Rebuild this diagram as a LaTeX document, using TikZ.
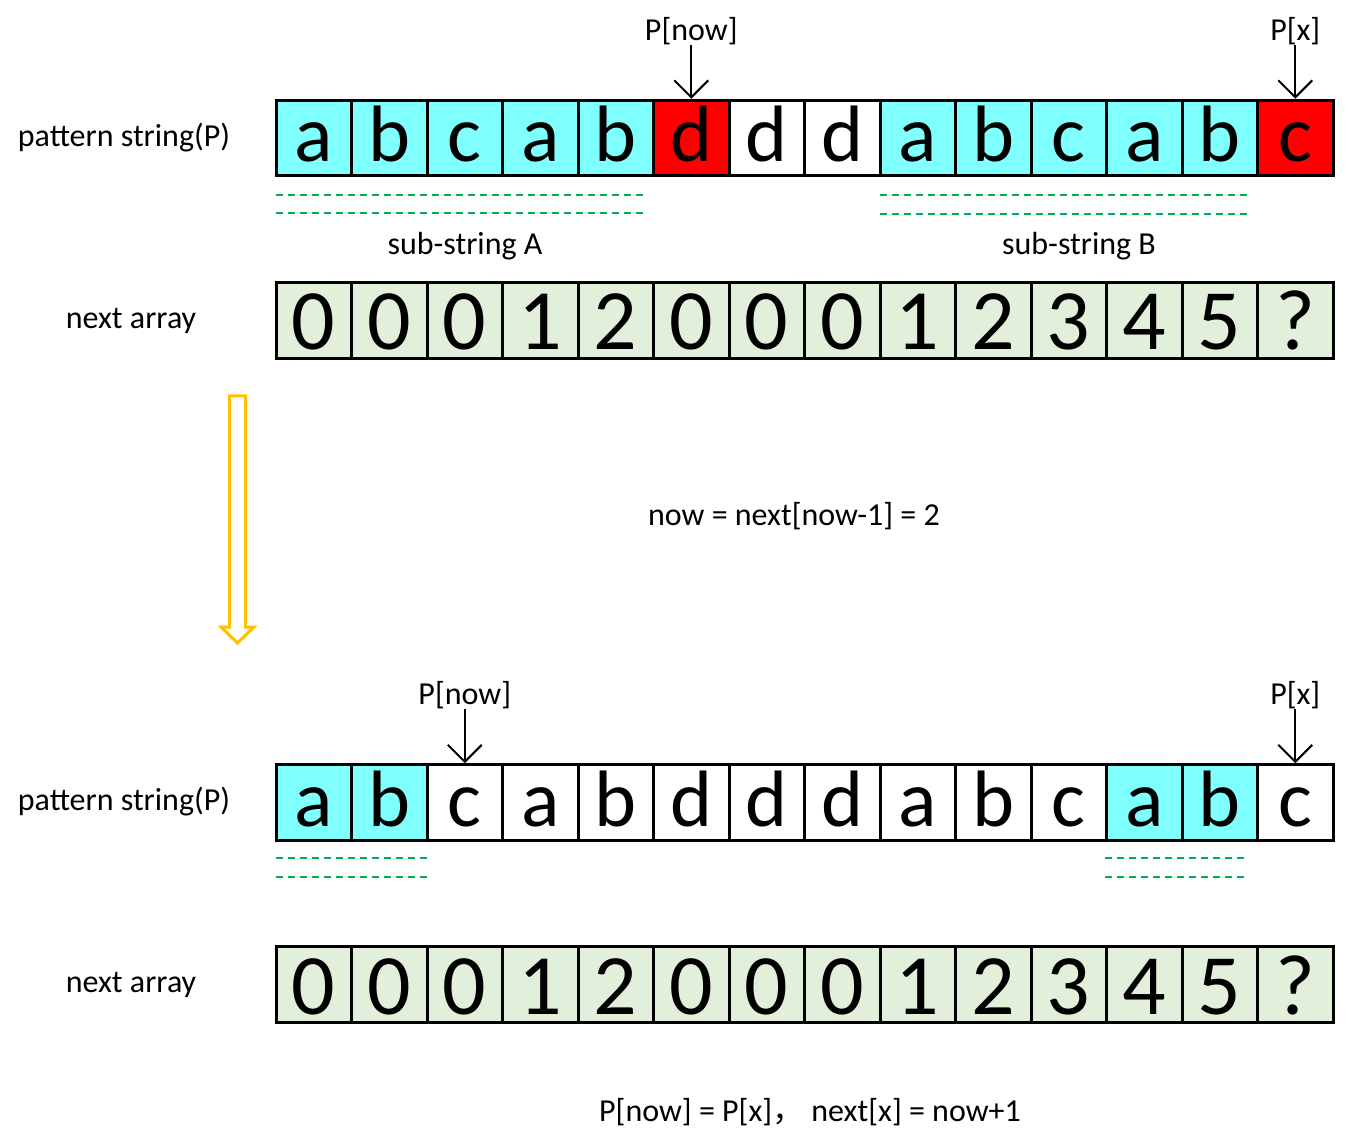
\documentclass[tikz,border=0pt]{standalone}
\usepackage{fontspec}
\setmainfont{Carlito}
\newfontfamily\cjk{Noto Sans CJK SC}
\usetikzlibrary{arrows.meta}
\definecolor{cellcyan}{HTML}{80FFFF}
\definecolor{cellred}{HTML}{FF0000}
\definecolor{cellgreen}{HTML}{E2EFDA}
\definecolor{dashgreen}{HTML}{00B050}
\definecolor{arrowyellow}{HTML}{FFC000}
\begin{document}
\begin{tikzpicture}[x=1pt,y=-1pt,
 cell/.style={draw=black,line width=3pt,minimum width=75.5pt,minimum height=75.5pt,inner sep=0pt,
   font=\fontsize{80}{80}\selectfont,text height=48pt,text depth=0pt},
 numcell/.style={cell,fill=cellgreen,font=\fontsize{86}{86}\selectfont,text height=59pt},
 lbl/.style={font=\fontsize{32}{38}\selectfont,inner sep=0pt},
 ptr/.style={line width=2pt,-{Straight Barb[length=17pt,width=34pt]}},
 match/.style={dashgreen,line width=1.2pt,dash pattern=on 7pt off 5pt},
]
\useasboundingbox (0,0) rectangle (1355,1147);

% top pattern row
\foreach \ch/\col [count=\i] in {a/cellcyan,b/cellcyan,c/cellcyan,a/cellcyan,b/cellcyan,d/cellred,d/white,d/white,a/cellcyan,b/cellcyan,c/cellcyan,a/cellcyan,b/cellcyan,c/cellred}
  \node[cell,fill=\col] (t\i) at ({313.75+75.5*(\i-1)},138) {\ch};
% top next array
\foreach \d [count=\i] in {0,0,0,1,2,0,0,0,1,2,3,4,5,?}
  \node[numcell] (n\i) at ({313.75+75.5*(\i-1)},320.5) {\d};
% bottom pattern row
\foreach \ch/\col [count=\i] in {a/cellcyan,b/cellcyan,c/white,a/white,b/white,d/white,d/white,d/white,a/white,b/white,c/white,a/cellcyan,b/cellcyan,c/white}
  \node[cell,fill=\col] (b\i) at ({313.75+75.5*(\i-1)},802.5) {\ch};
% bottom next array
\foreach \d [count=\i] in {0,0,0,1,2,0,0,0,1,2,3,4,5,?}
  \node[numcell] (m\i) at ({313.75+75.5*(\i-1)},984.5) {\d};

% row labels
\node[lbl] (lp1) at (124,138) {pattern string(P)};
\node[lbl] (ln1) at (131,321) {next array};
\node[lbl] (lp2) at (124,802) {pattern string(P)};
\node[lbl] (ln2) at (131,985) {next array};

% pointers
\node[lbl,anchor=south] (pnow1) at ([yshift=54pt]t6.north) {P[now]};
\node[lbl,anchor=south] (px1) at ([yshift=54pt]t14.north) {P[x]};
\node[lbl,anchor=south] (pnow2) at ([yshift=54pt]b3.north) {P[now]};
\node[lbl,anchor=south] (px2) at ([yshift=54pt]b14.north) {P[x]};
\draw[ptr] (pnow1.south) -- (t6.north);
\draw[ptr] (px1.south) -- (t14.north);
\draw[ptr] (pnow2.south) -- (b3.north);
\draw[ptr] (px2.south) -- (b14.north);

% matching sub-strings
\draw[match] (276,195) -- (643,195);
\draw[match] (276,213) -- (643,213);
\draw[match] (880,195) -- (1248,195);
\draw[match] (880,214) -- (1248,214);
\draw[match] (276,858) -- (427,858);
\draw[match] (276,877) -- (427,877);
\draw[match] (1105,858) -- (1245,858);
\draw[match] (1105,877) -- (1245,877);

\node[lbl] (sa) at (465,246) {sub-string A};
\node[lbl] (sb) at (1079,246) {sub-string B};

% step arrow
\draw[arrowyellow,line width=3pt,fill=white,line join=miter]
  (229.5,396) -- (245.5,396) -- (245.5,627) -- (254,627) -- (237.5,643) -- (221,627) -- (229.5,627) -- cycle;

\node[lbl] (step) at (794,516) {now = next[now-1] = 2};
\node[lbl] (res) at (810,1112) {P[now] = P[x]{\cjk ，}\ next[x] = now+1};
\end{tikzpicture}
\end{document}
